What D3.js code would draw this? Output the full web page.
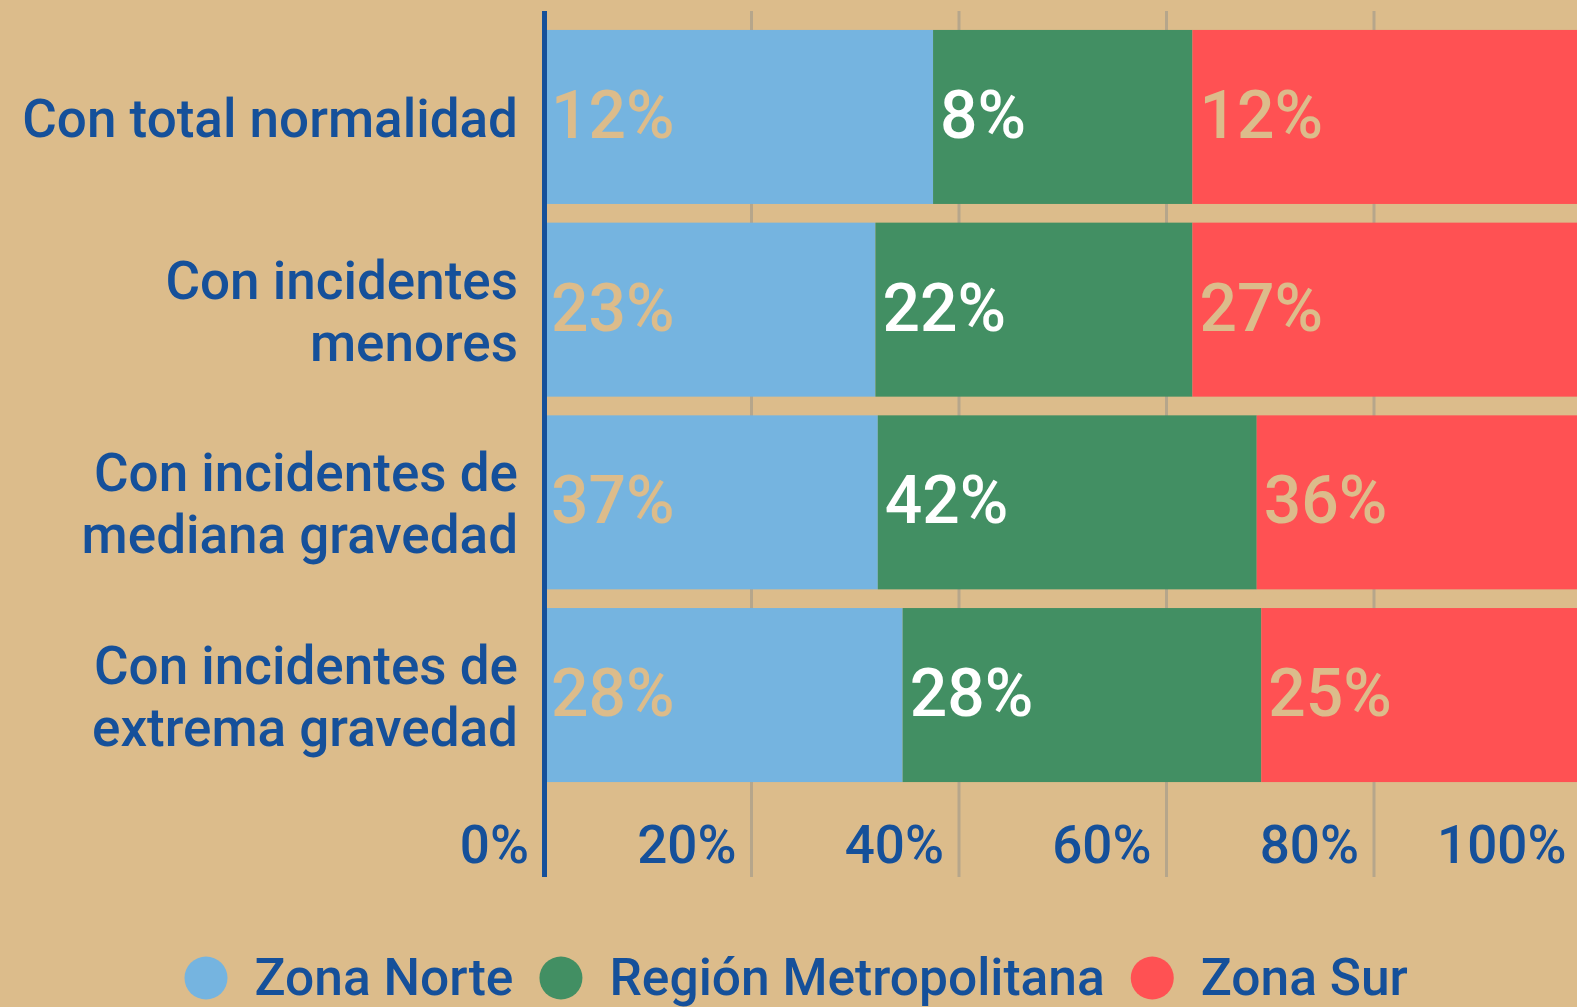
<!DOCTYPE html>
<html>
<head>
<meta charset="utf-8">
<script src="https://cdn.jsdelivr.net/npm/d3@7"></script>
<style>
  body { margin: 0; background: #dcbc8b; }
  text { font-family: Roboto, "Noto Sans", sans-serif; }
</style>
</head>
<body>
<div class="chart"></div>
<script>
// data
const categoryLines = [
  ["Con total normalidad"],
  ["Con incidentes", "menores"],
  ["Con incidentes de", "mediana gravedad"],
  ["Con incidentes de", "extrema gravedad"]
]
const categories = categoryLines.map(d => d.join(" "))
const seriesNames = ["Zona Norte", "Región Metropolitana", "Zona Sur"]
const zonaNorte = [12, 23, 37, 28]
const regionMetropolitana = [8, 22, 42, 28]
const zonaSur = [12, 27, 36, 25]
const xTicks = [0, 0.2, 0.4, 0.6, 0.8, 1]

const colors = ["#75b4e0", "#428f63", "#ff5153"]
const labelColors = ["#dcbc8b", "#ffffff", "#dcbc8b"]
const textBlue = "#15509a"

const width = 1577, height = 1007

const rows = categories.map((c, i) => ({
  category: c,
  "Zona Norte": zonaNorte[i],
  "Región Metropolitana": regionMetropolitana[i],
  "Zona Sur": zonaSur[i]
}))

const stacked = d3.stack()
  .keys(seriesNames)
  .offset(d3.stackOffsetExpand)(rows)

const svg = d3.select(".chart")
  .append("svg")
    .attr("width", width)
    .attr("height", height)

const x = d3.scaleLinear()
  .domain([0, 1])
  .range([544, 1581.5])

const y = d3.scaleBand()
  .domain(categories)
  .range([20.6, 791.4])
  .paddingInner(0.097)
  .paddingOuter(0.0485)

// gridlines
svg.append("g")
  .selectAll("line")
  .data(xTicks.slice(1))
  .join("line")
    .attr("x1", d => x(d))
    .attr("x2", d => x(d))
    .attr("y1", 11)
    .attr("y2", 877)
    .attr("stroke", "#b6a68b")
    .attr("stroke-width", 3)

// bars
const layer = svg.append("g")
  .selectAll("g")
  .data(stacked)
  .join("g")
    .attr("fill", (d, i) => colors[i])

layer.selectAll("rect")
  .data(d => d)
  .join("rect")
    .attr("x", d => x(d[0]))
    .attr("y", d => y(d.data.category))
    .attr("width", d => x(d[1]) - x(d[0]))
    .attr("height", y.bandwidth())

// value labels
svg.append("g")
  .selectAll("g")
  .data(stacked)
  .join("g")
    .attr("fill", (d, i) => labelColors[i])
  .selectAll("text")
  .data(d => d.map(v => ({v: v, key: d.key})))
  .join("text")
    .attr("x", d => x(d.v[0]) + 7)
    .attr("y", d => y(d.v.data.category) + y.bandwidth() / 2 + 21)
    .style("font-size", "66px")
    .style("font-weight", 500)
    .text(d => d.v.data[d.key] + "%")

// axis line
svg.append("line")
  .attr("x1", 544.5)
  .attr("x2", 544.5)
  .attr("y1", 11)
  .attr("y2", 877)
  .attr("stroke", textBlue)
  .attr("stroke-width", 5)

// x tick labels
svg.append("g")
  .selectAll("text")
  .data(xTicks)
  .join("text")
    .attr("x", d => x(d) - 15)
    .attr("y", 863)
    .attr("text-anchor", "end")
    .attr("fill", textBlue)
    .style("font-size", "53px")
    .style("font-weight", 500)
    .text(d => Math.round(d * 100) + "%")

// category labels
const catLabel = svg.append("g")
  .selectAll("text")
  .data(categoryLines)
  .join("text")
    .attr("text-anchor", "end")
    .attr("fill", textBlue)
    .style("font-size", "53px")
    .style("font-weight", 500)
    .attr("transform", (d, i) => {
      let cy = y(categories[i]) + y.bandwidth() / 2 + 20 - (d.length - 1) * 31
      return `translate(518,${cy})`
    })

catLabel.selectAll("tspan")
  .data(d => d)
  .join("tspan")
    .attr("x", 0)
    .attr("dy", (d, i) => i == 0 ? 0 : 62)
    .text(d => d)

// legend
const legend = svg.append("g")
let lx = 184.5
seriesNames.forEach(function(name, i) {
  legend.append("circle")
    .attr("cx", lx + 21.5)
    .attr("cy", 978)
    .attr("r", 21.5)
    .attr("fill", colors[i])
  const t = legend.append("text")
    .attr("x", lx + 70)
    .attr("y", 995)
    .attr("fill", textBlue)
    .style("font-size", "51.5px")
    .style("font-weight", 500)
    .text(name)
  lx = lx + 70 + t.node().getComputedTextLength() + 26
})
</script>
</body>
</html>
